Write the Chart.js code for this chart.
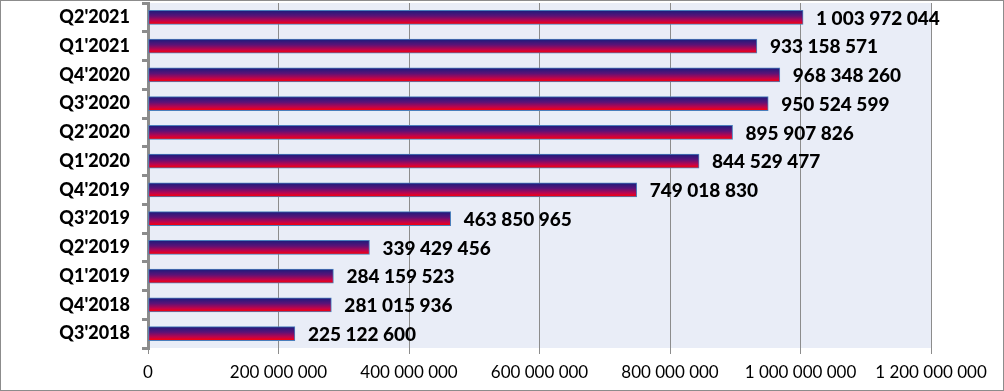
<!DOCTYPE html>
<html><head><meta charset="utf-8">
<script src="https://cdn.jsdelivr.net/npm/chart.js@4"></script>
<style>
html,body{margin:0;padding:0;background:#fff;}
#wrap{width:1004px;height:391px;box-sizing:border-box;border:1px solid #8c8c8c;}
canvas{display:block;}
</style></head>
<body><div id="wrap"><canvas id="c" width="1002" height="389"></canvas></div>
<script>
const categories = ["Q2'2021","Q1'2021","Q4'2020","Q3'2020","Q2'2020","Q1'2020","Q4'2019","Q3'2019","Q2'2019","Q1'2019","Q4'2018","Q3'2018"];
const values = [1003972044,933158571,968348260,950524599,895907826,844529477,749018830,463850965,339429456,284159523,281015936,225122600];
const xMin = 0, xMax = 1200000000, xStep = 200000000;

function fmt(v){ return String(Math.round(v)).replace(/\B(?=(\d{3})+(?!\d))/g,' '); }
const FONT = 'Lato, "Liberation Sans", sans-serif';
const BAR_T = 14;

const bgPlugin = {
  id:'bg',
  beforeDraw(chart){
    const {ctx, chartArea:a} = chart;
    ctx.save(); ctx.fillStyle='#E9EDF7';
    ctx.fillRect(a.left,a.top,a.right-a.left,a.bottom-a.top);
    ctx.restore();
  }
};
const labelPlugin = {
  id:'lbl',
  afterDatasetsDraw(chart){
    const {ctx} = chart;
    const meta = chart.getDatasetMeta(0);
    ctx.save();
    ctx.font = '900 19px ' + FONT;
    ctx.fillStyle = '#000';
    ctx.textAlign='left'; ctx.textBaseline='middle';
    meta.data.forEach((el,i)=>{
      ctx.fillText(fmt(values[i]), el.x + 13, el.y + 1);
    });
    ctx.restore();
  }
};

function grad(c){
  const chart = c.chart;
  if(!chart.chartArea) return '#800060';
  const y = chart.scales.y.getPixelForValue(c.dataIndex);
  const g = chart.ctx.createLinearGradient(0, y - BAR_T/2, 0, y + BAR_T/2);
  g.addColorStop(0,'#1A1C7C');
  g.addColorStop(0.4,'#5C1277');
  g.addColorStop(0.75,'#C2044A');
  g.addColorStop(1,'#FF0000');
  return g;
}

new Chart(document.getElementById('c'), {
  type:'bar',
  data:{ labels:categories, datasets:[{ data:values, backgroundColor:grad, borderColor:'#4A7EBB', borderWidth:1, borderSkipped:false, barThickness:BAR_T }]},
  options:{
    indexAxis:'y', responsive:false, animation:false,
    layout:{ autoPadding:false, padding:{ top:2, right:72, left:0, bottom:0 } },
    plugins:{ legend:{display:false}, tooltip:{enabled:false} },
    scales:{
      x:{
        min:xMin, max:xMax,
        afterBuildTicks(s){ const t=[]; for(let v=xMin; v<=xMax; v+=xStep) t.push({value:v}); s.ticks=t; },
        afterFit(s){ s.height = 42; s.paddingLeft = 0; s.paddingRight = 0; },
        grid:{ color:'#8c8c8c', lineWidth:1, drawTicks:true, tickLength:6 },
        border:{ display:false },
        ticks:{ font:{family:FONT, size:17}, color:'#000', padding:8, maxRotation:0, callback:(v)=>fmt(v) }
      },
      y:{
        afterFit(s){ s.width = 147; s.paddingTop = 0; s.paddingBottom = 0; },
        grid:{ drawOnChartArea:false, drawTicks:true, tickLength:6, color:'#8c8c8c', lineWidth:3, offset:true },
        border:{ display:true, color:'#8c8c8c', width:3 },
        ticks:{ font:{family:FONT, size:18, weight:900}, color:'#000', padding:12 }
      }
    }
  },
  plugins:[bgPlugin,labelPlugin]
});
</script>
</body></html>
